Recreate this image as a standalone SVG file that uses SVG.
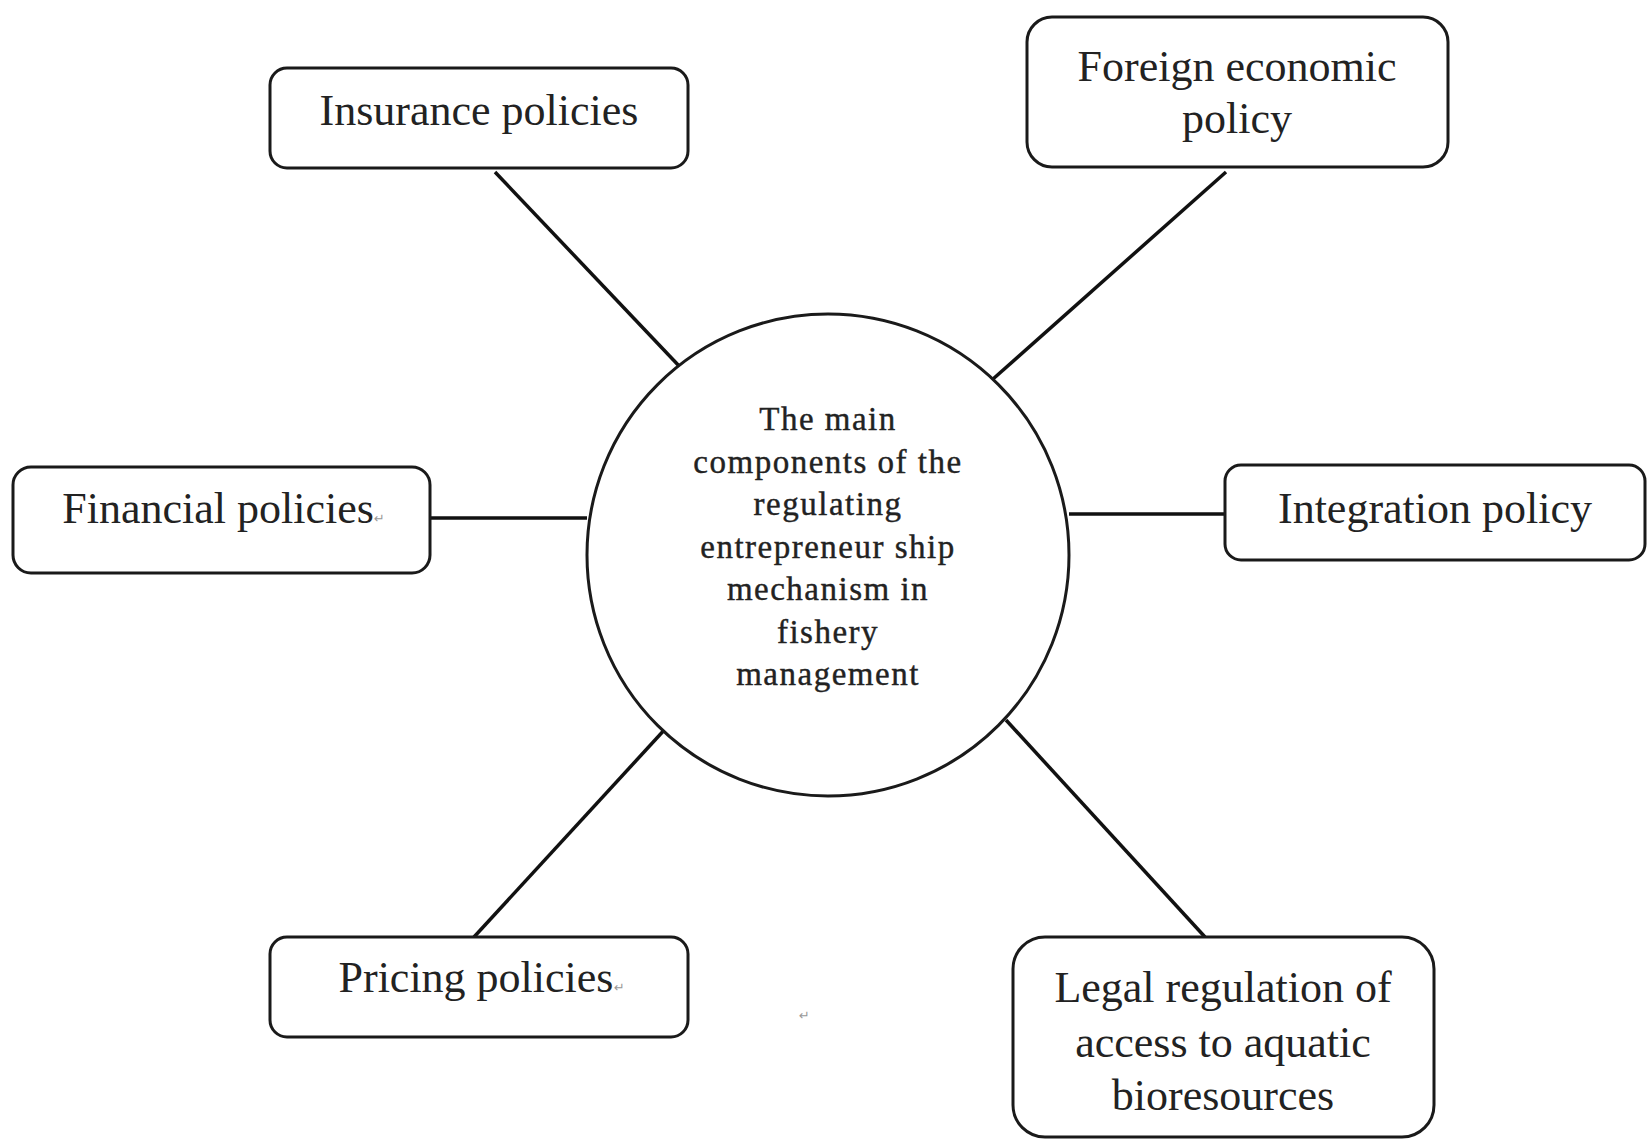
<svg xmlns="http://www.w3.org/2000/svg" width="1650" height="1140" viewBox="0 0 1650 1140">
<style>
.box{fill:#fff;stroke:#1a1a1a;stroke-width:3}
.lbl{font-family:"Liberation Serif","Times New Roman",serif;font-size:44px;fill:#222;text-anchor:middle}
.ctr{font-family:"Liberation Serif","Times New Roman",serif;font-size:33px;letter-spacing:1.5px;fill:#222;stroke:#222;stroke-width:0.4;text-anchor:middle}
.mark{font-family:"DejaVu Sans",sans-serif;font-size:13px;fill:#999}
.conn line{stroke:#111;stroke-width:3.5}
</style>
<rect width="1650" height="1140" fill="#fff"/>
<g class="conn" id="connectors">
<line x1="495" y1="172" x2="681" y2="368"/>
<line x1="1226" y1="172" x2="993" y2="379"/>
<line x1="431" y1="518" x2="587" y2="518"/>
<line x1="1069" y1="514" x2="1226" y2="514"/>
<line x1="667" y1="727" x2="474" y2="937"/>
<line x1="1006" y1="720" x2="1205" y2="937"/>
</g>
<g id="center">
<circle cx="828" cy="555" r="241" fill="#fff" stroke="#1a1a1a" stroke-width="3"/>
<text class="ctr" x="828" y="430">The main</text>
<text class="ctr" x="828" y="473">components of the</text>
<text class="ctr" x="828" y="515">regulating</text>
<text class="ctr" x="828" y="558">entrepreneur ship</text>
<text class="ctr" x="828" y="600">mechanism in</text>
<text class="ctr" x="828" y="643">fishery</text>
<text class="ctr" x="828" y="685">management</text>
</g>
<g id="insurance">
<rect class="box" x="270" y="68" width="418" height="100" rx="17"/>
<text class="lbl" x="479" y="125">Insurance policies</text>
</g>
<g id="foreign">
<rect class="box" x="1027" y="17" width="421" height="150" rx="25"/>
<text class="lbl" x="1237" y="81">Foreign economic</text>
<text class="lbl" x="1237" y="133">policy</text>
</g>
<g id="financial">
<rect class="box" x="13" y="467" width="417" height="106" rx="18"/>
<text class="lbl" x="218" y="523">Financial policies</text>
<text class="mark" x="374" y="523">↵</text>
</g>
<g id="integration">
<rect class="box" x="1225" y="465" width="420" height="95" rx="16"/>
<text class="lbl" x="1435" y="523">Integration policy</text>
</g>
<g id="pricing">
<rect class="box" x="270" y="937" width="418" height="100" rx="17"/>
<text class="lbl" x="476" y="992">Pricing policies</text>
<text class="mark" x="614" y="992">↵</text>
</g>
<g id="legal">
<rect class="box" x="1013" y="937" width="421" height="200" rx="32"/>
<text class="lbl" x="1223" y="1002">Legal regulation of</text>
<text class="lbl" x="1223" y="1057">access to aquatic</text>
<text class="lbl" x="1223" y="1110">bioresources</text>
</g>
<text class="mark" x="799" y="1020">↵</text>
</svg>
